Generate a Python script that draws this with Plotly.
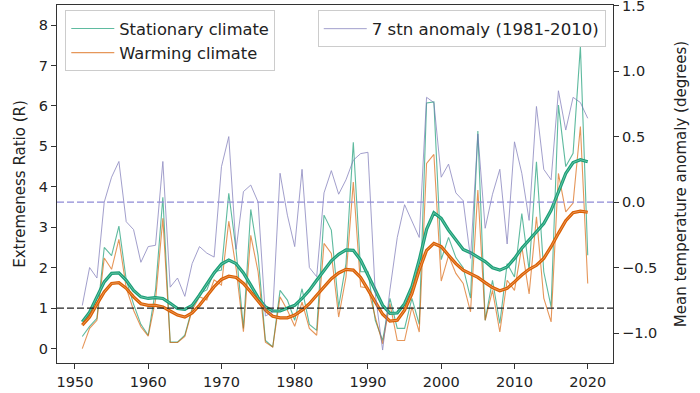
import plotly.graph_objects as go

years = list(range(1951, 2021))

stationary = [0.3, 0.55, 0.75, 2.5, 2.3, 3.03, 1.7, 1.1, 0.6, 0.33,
              1.45, 3.74, 0.16, 0.16, 0.33, 1.0, 1.36, 1.45, 1.9, 1.94,
              3.84, 2.43, 0.5, 3.44, 2.3, 0.2, 0.04, 1.44, 1.2, 0.7,
              1.48, 0.6, 0.45, 3.3, 2.93, 1.03, 2.1, 5.1, 1.9, 1.9,
              0.7, 0.2, 1.24, 0.5, 0.5, 1.24, 0.6, 6.07, 6.1, 2.2,
              2.75, 2.25, 2.0, 1.25, 5.38, 0.7, 1.69, 0.62, 2.1, 1.77,
              3.34, 1.94, 4.62, 1.9, 1.03, 6.02, 4.5, 4.83, 7.47, 2.31]

warming = [0.0, 0.5, 0.7, 2.24, 1.96, 2.7, 1.5, 0.95, 0.54, 0.31,
           1.2, 3.22, 0.15, 0.15, 0.3, 0.95, 1.28, 1.2, 1.7, 1.57,
           3.15, 1.98, 0.42, 2.8, 1.9, 0.16, 0.04, 1.28, 0.95, 0.55,
           1.15, 0.5, 0.33, 2.6, 2.35, 0.78, 1.77, 4.12, 1.53, 1.5,
           0.78, 0.12, 1.11, 0.2, 0.2, 1.03, 0.41, 4.58, 4.8, 1.67,
           2.3, 1.86, 1.61, 0.91, 3.92, 0.7, 1.44, 0.41, 1.69, 1.44,
           2.52, 1.35, 3.26, 1.25, 0.66, 4.33, 3.38, 3.6, 5.49, 1.61]

stationary_smooth = [0.66, 0.9, 1.28, 1.65, 1.86, 1.87, 1.69, 1.44, 1.28, 1.24,
                     1.26, 1.24, 1.12, 0.99, 0.97, 1.07, 1.32, 1.59, 1.87, 2.09,
                     2.19, 2.1, 1.87, 1.57, 1.26, 1.03, 0.93, 0.93, 0.99, 1.07,
                     1.24, 1.44, 1.69, 1.94, 2.17, 2.33, 2.44, 2.43, 2.19, 1.82,
                     1.44, 1.07, 0.87, 0.88, 1.11, 1.53, 2.19, 2.95, 3.36, 3.22,
                     2.93, 2.68, 2.45, 2.37, 2.27, 2.15, 2.0, 1.94, 2.02, 2.23,
                     2.48, 2.68, 2.89, 3.09, 3.42, 3.88, 4.33, 4.6, 4.67, 4.62]

warming_smooth = [0.58, 0.78, 1.1, 1.4, 1.61, 1.63, 1.49, 1.28, 1.11, 1.07,
                  1.07, 1.03, 0.93, 0.83, 0.78, 0.88, 1.07, 1.3, 1.53, 1.71,
                  1.79, 1.76, 1.61, 1.4, 1.16, 0.95, 0.8, 0.76, 0.76, 0.83,
                  0.95, 1.11, 1.32, 1.53, 1.73, 1.87, 1.96, 1.94, 1.76, 1.46,
                  1.16, 0.85, 0.68, 0.7, 0.95, 1.36, 1.94, 2.43, 2.6, 2.52,
                  2.31, 2.1, 1.94, 1.84, 1.76, 1.63, 1.51, 1.43, 1.49, 1.65,
                  1.82, 1.96, 2.06, 2.23, 2.52, 2.85, 3.16, 3.36, 3.4, 3.37]

anomaly = [-0.79, -0.5, -0.58, 0.0, 0.19, 0.31, -0.15, -0.21, -0.46, -0.34,
           -0.33, 0.31, -0.65, -0.58, -0.72, -0.47, -0.34, -0.39, -0.42, 0.27,
           0.5, -0.36, 0.08, 0.13, 0.0, -0.87, -0.84, 0.22, -0.1, -0.34,
           0.25, -0.5, -0.57, 0.07, 0.24, 0.06, 0.17, 0.32, 0.37, 0.38,
           -0.7, -1.13, -0.67, -0.27, -0.02, -0.14, -0.27, 0.8, 0.76, 0.19,
           0.29, 0.07, 0.01, -0.43, 0.52, -0.2, 0.06, 0.25, -0.32, 0.46,
           0.22, -0.14, 0.73, 0.25, 0.17, 0.85, 0.55, 0.8, 0.76, 0.64]

ratio_ref = 1.0
anomaly_ref = 0.0
x_ticks = [1950, 1960, 1970, 1980, 1990, 2000, 2010, 2020]
left_ticks = [0, 1, 2, 3, 4, 5, 6, 7, 8]
right_ticks = [-1.0, -0.5, 0.0, 0.5, 1.0, 1.5]

GREEN = "#1b9e77"
ORANGE = "#d95f02"
PURPLE = "#7570b3"
FONT = "DejaVu Sans"

fig = go.Figure()

fig.add_trace(go.Scatter(x=years, y=stationary, mode="lines", name="Stationary climate",
                         line=dict(color=GREEN, width=1.1), opacity=0.7, legend="legend"))
fig.add_trace(go.Scatter(x=years, y=warming, mode="lines", name="Warming climate",
                         line=dict(color=ORANGE, width=1.1), opacity=0.65, legend="legend"))
fig.add_trace(go.Scatter(x=years, y=stationary_smooth, mode="lines", showlegend=False,
                         line=dict(color=GREEN, width=3.2)))
fig.add_trace(go.Scatter(x=years, y=stationary_smooth, mode="lines", showlegend=False,
                         line=dict(color="rgba(160,225,200,0.55)", width=1.0)))
fig.add_trace(go.Scatter(x=years, y=warming_smooth, mode="lines", showlegend=False,
                         line=dict(color=ORANGE, width=3.2)))
fig.add_trace(go.Scatter(x=years, y=warming_smooth, mode="lines", showlegend=False,
                         line=dict(color="rgba(250,190,150,0.55)", width=1.0)))
fig.add_trace(go.Scatter(x=years, y=anomaly, mode="lines", name="7 stn anomaly (1981-2010)",
                         line=dict(color=PURPLE, width=0.9), opacity=0.75,
                         yaxis="y2", legend="legend2"))

fig.add_shape(type="line", xref="x domain", x0=0, x1=1, yref="y", y0=ratio_ref, y1=ratio_ref,
              line=dict(color="#222222", width=1.3, dash="7px,3px"))
fig.add_shape(type="line", xref="x domain", x0=0, x1=1, yref="y2", y0=anomaly_ref, y1=anomaly_ref,
              line=dict(color="#8f8ad6", width=1.3, dash="7px,3px"))

axis_common = dict(showgrid=False, zeroline=False, ticks="outside", ticklen=5, tickwidth=1,
                   tickcolor="#333333", showline=True, linecolor="#333333", linewidth=1.3,
                   automargin=False, ticklabeloverflow="allow",
                   tickfont=dict(family=FONT, size=14.5, color="#222222"))

fig.update_layout(
    width=700, height=393,
    margin=dict(l=57, r=87, t=5, b=30, autoexpand=False),
    plot_bgcolor="white", paper_bgcolor="white",
    font=dict(family=FONT, color="#222222"),
    xaxis=dict(range=[1947.55, 2023.45], tickvals=x_ticks, mirror=True, **axis_common),
    yaxis=dict(range=[-0.356, 8.495], tickvals=left_ticks, mirror=True,
               title=dict(text="Extremeness Ratio (R)", font=dict(family=FONT, size=15), standoff=9),
               **axis_common),
    yaxis2=dict(range=[-1.229, 1.505], tickvals=right_ticks, tickformat=".1f",
                overlaying="y", side="right",
                title=dict(text="Mean temperature anomaly (degrees)", font=dict(family=FONT, size=15), standoff=19),
                **axis_common),
    legend=dict(x=0.0149, y=0.985, xanchor="left", yanchor="top", itemwidth=43,
                bgcolor="rgba(255,255,255,0.85)", bordercolor="#cccccc", borderwidth=1,
                font=dict(family=FONT, size=16.3, color="#222222"), tracegroupgap=0),
    legend2=dict(x=0.469, y=0.985, xanchor="left", yanchor="top", itemwidth=43,
                 bgcolor="rgba(255,255,255,0.85)", bordercolor="#cccccc", borderwidth=1,
                 font=dict(family=FONT, size=16.6, color="#222222")),
)

fig.write_html("out.html", config={"displayModeBar": False},
               post_script="document.body.style.margin='0';document.body.style.overflow='hidden';")
